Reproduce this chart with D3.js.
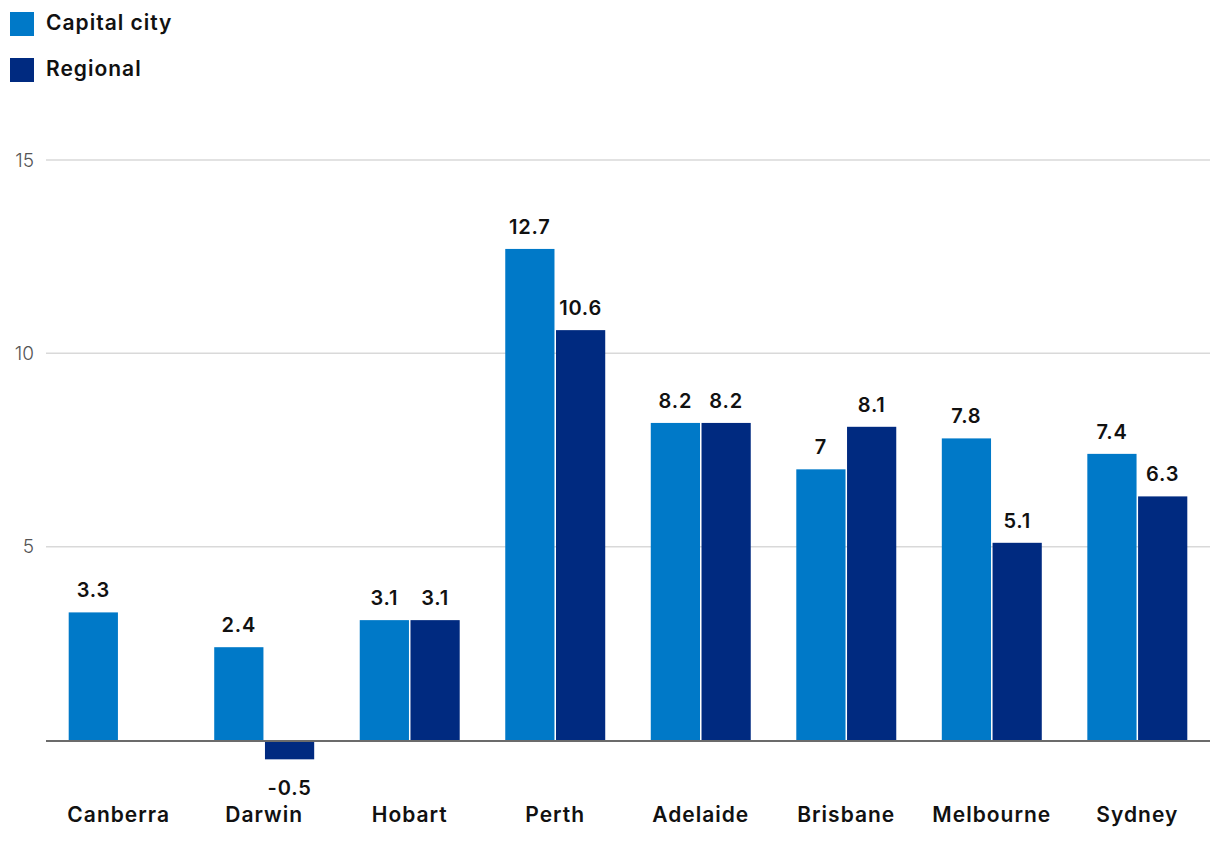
<!DOCTYPE html>
<html>
<head>
<meta charset="utf-8">
<script src="https://cdn.jsdelivr.net/npm/d3@7"></script>
<style>
  body { margin: 0; background: #fff; font-family: Inter, "Open Sans", sans-serif; }
  svg { display: block; }
</style>
</head>
<body>
<svg id="chart" width="1220" height="844"></svg>
<script>
var cities = ["Canberra", "Darwin", "Hobart", "Perth", "Adelaide", "Brisbane", "Melbourne", "Sydney"];
var seriesNames = ["Capital city", "Regional"];
var capitalValues = [3.3, 2.4, 3.1, 12.7, 8.2, 7, 7.8, 7.4];
var regionalValues = [null, -0.5, 3.1, 10.6, 8.2, 8.1, 5.1, 6.3];
var yTicks = [5, 10, 15];
var colors = ["#0079c8", "#002a80"];

var svg = d3.select("#chart");

var x0 = d3.scaleBand().domain(cities).range([46, 1210]).paddingInner(0.313).paddingOuter(0.156);
var x1 = d3.scaleBand().domain(seriesNames).range([0, x0.bandwidth()]).paddingInner(0.03);
var y = d3.scaleLinear().domain([0, 15]).range([740, 160]);

// legend
var legend = svg.append("g");
seriesNames.forEach(function(name, i) {
  legend.append("rect").attr("x", 10).attr("y", 12 + i * 46).attr("width", 24).attr("height", 24).attr("fill", colors[i]);
  legend.append("text").attr("x", 46).attr("y", 23 + i * 46).attr("dy", "0.35em")
    .attr("font-size", 21).attr("font-weight", 600).attr("letter-spacing", 1).attr("fill", "#111").text(name);
});

// grid + y labels
svg.append("g").selectAll("line").data(yTicks).enter().append("line")
  .attr("x1", 46).attr("x2", 1210)
  .attr("y1", function(d) { return y(d); }).attr("y2", function(d) { return y(d); })
  .attr("stroke", "#d9d9d9").attr("stroke-width", 1.5);
svg.append("g").selectAll("text").data(yTicks).enter().append("text")
  .attr("x", 34).attr("y", function(d) { return y(d); }).attr("dy", "0.35em")
  .attr("text-anchor", "end").attr("font-size", 19).attr("font-weight", 300).attr("fill", "#555")
  .text(function(d) { return d; });

// bars
var rows = cities.map(function(c, i) {
  return { city: c, vals: [
    { s: seriesNames[0], v: capitalValues[i], c: colors[0] },
    { s: seriesNames[1], v: regionalValues[i], c: colors[1] }
  ].filter(function(d) { return d.v !== null; }) };
});

var groups = svg.append("g").selectAll("g").data(rows).enter().append("g")
  .attr("transform", function(d) { return "translate(" + x0(d.city) + ",0)"; });

groups.selectAll("rect").data(function(d) { return d.vals; }).enter().append("rect")
  .attr("x", function(d) { return x1(d.s); })
  .attr("width", x1.bandwidth())
  .attr("y", function(d) { return d.v >= 0 ? y(d.v) : y(0); })
  .attr("height", function(d) { return Math.abs(y(d.v) - y(0)); })
  .attr("fill", function(d) { return d.c; });

groups.selectAll("text").data(function(d) { return d.vals; }).enter().append("text")
  .attr("x", function(d) { return x1(d.s) + x1.bandwidth() / 2; })
  .attr("y", function(d) { return d.v >= 0 ? y(d.v) - 15 : y(d.v) + 36; })
  .attr("text-anchor", "middle").attr("font-size", 20).attr("font-weight", 600)
  .attr("letter-spacing", 0.8).attr("fill", "#111")
  .text(function(d) { return d.v; });

// zero line
svg.append("line").attr("x1", 46).attr("x2", 1210).attr("y1", y(0) + 1).attr("y2", y(0) + 1)
  .attr("stroke", "#6b6b6b").attr("stroke-width", 2);

// category labels
svg.append("g").selectAll("text").data(cities).enter().append("text")
  .attr("x", function(d) { return x0(d) + x0.bandwidth() / 2; })
  .attr("y", 815).attr("dy", "0.35em").attr("text-anchor", "middle")
  .attr("font-size", 21).attr("font-weight", 600).attr("letter-spacing", 1).attr("fill", "#111")
  .text(function(d) { return d; });
</script>
</body>
</html>
